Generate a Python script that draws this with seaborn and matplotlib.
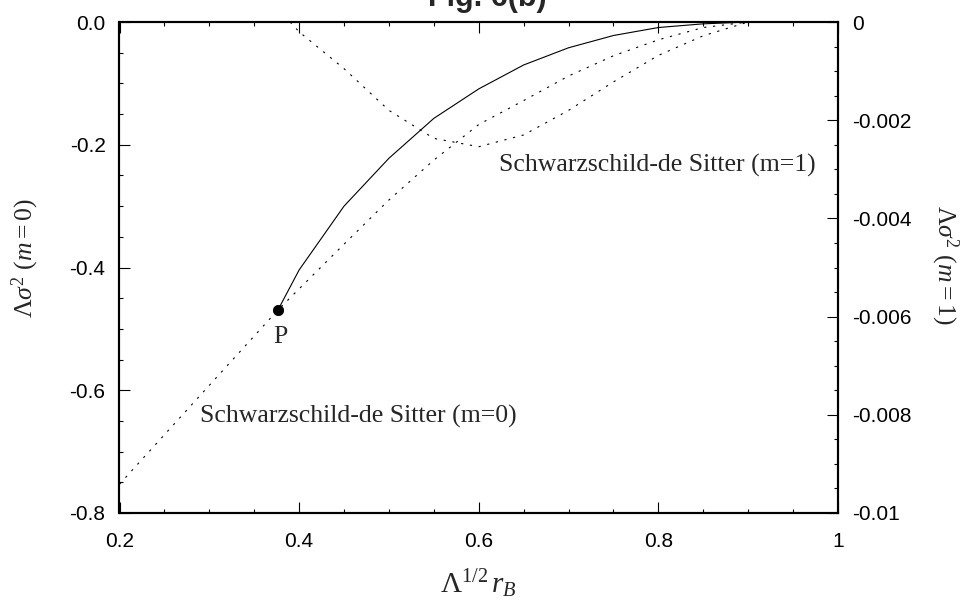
import numpy as np
import pandas as pd
import matplotlib
matplotlib.use("Agg")
import matplotlib.pyplot as plt
import seaborn as sns
from matplotlib.ticker import MultipleLocator, FuncFormatter

# ---- data ----
solid_x = [0.3765, 0.40, 0.45, 0.50, 0.55, 0.60, 0.65, 0.70, 0.75, 0.80, 0.85, 0.90]
solid_y = [-0.469, -0.404, -0.300, -0.222, -0.157, -0.109, -0.070, -0.042, -0.022, -0.009, -0.003, 0.0]

sds0_x = [0.20, 0.30, 0.3765, 0.45, 0.50, 0.55, 0.60, 0.65, 0.70, 0.75, 0.80, 0.85, 0.90]
sds0_y = [-0.753, -0.592, -0.469, -0.362, -0.290, -0.225, -0.167, -0.128, -0.088, -0.055, -0.029, -0.009, 0.0]

sds1_x = [0.39, 0.40, 0.45, 0.50, 0.55, 0.60, 0.65, 0.70, 0.75, 0.80, 0.85, 0.90]
sds1_y = [0.0, -0.0002, -0.00095, -0.0018, -0.00237, -0.00254, -0.0023, -0.0018, -0.00122, -0.00068, -0.00028, 0.0]

point_P = {"x": [0.3765], "y": [-0.469]}

xticks = [0.2, 0.4, 0.6, 0.8, 1.0]
yticks_left = [0.0, -0.2, -0.4, -0.6, -0.8]
yticks_right = [0.0, -0.002, -0.004, -0.006, -0.008, -0.01]

# ---- style ----
sns.set_style("ticks")
plt.rcParams["font.family"] = ["Liberation Sans", "DejaVu Sans"]
plt.rcParams["axes.unicode_minus"] = False
plt.rcParams["mathtext.fontset"] = "custom"
plt.rcParams["mathtext.rm"] = "Liberation Serif"
plt.rcParams["mathtext.it"] = "Liberation Serif:italic"
plt.rcParams["mathtext.bf"] = "Liberation Serif:bold"
plt.rcParams["mathtext.fallback"] = "cm"

fig = plt.figure(figsize=(9.62, 6.08), dpi=100)
ax = fig.add_axes([119.5 / 962, 1 - 513 / 608, (838 - 119.5) / 962, (513 - 22) / 608])
ax2 = ax.twinx()

dotted = (0, (2, 6))
df_solid = pd.DataFrame({"x": solid_x, "y": solid_y})
df0 = pd.DataFrame({"x": sds0_x, "y": sds0_y})
df1 = pd.DataFrame({"x": sds1_x, "y": sds1_y})

sns.lineplot(data=df_solid, x="x", y="y", ax=ax, color="black", lw=0.8, sort=False, estimator=None)
sns.lineplot(data=df0, x="x", y="y", ax=ax, color="black", lw=0.8, linestyle=dotted, sort=False, estimator=None)
sns.lineplot(data=df1, x="x", y="y", ax=ax2, color="black", lw=0.8, linestyle=dotted, sort=False, estimator=None)
sns.scatterplot(data=pd.DataFrame(point_P), x="x", y="y", ax=ax, color="black", s=55, edgecolor="black", zorder=5)

ax.set_xlim(0.2, 1.0)
ax.set_ylim(-0.8, 0.0)
ax2.set_ylim(-0.01, 0.0)

ax.set_xticks(xticks)
ax.set_yticks(yticks_left)
ax2.set_yticks(yticks_right)
ax.xaxis.set_minor_locator(MultipleLocator(0.05))
ax.yaxis.set_minor_locator(MultipleLocator(0.05))
ax2.yaxis.set_minor_locator(MultipleLocator(0.0005))
ax.xaxis.set_major_formatter(FuncFormatter(lambda v, p: "%g" % round(v, 6)))
ax.yaxis.set_major_formatter(FuncFormatter(lambda v, p: "%.1f" % (v if abs(v) > 1e-9 else 0.0)))
ax2.yaxis.set_major_formatter(FuncFormatter(lambda v, p: "%g" % round(v, 6) if abs(v) > 1e-12 else "0"))

for a in (ax, ax2):
    for s in a.spines.values():
        s.set_linewidth(1.5)
        s.set_color("black")
        s.set_visible(True)

ax.tick_params(axis="x", which="both", direction="in", top=True, bottom=True, labelsize=15, pad=14, colors="black")
ax.tick_params(axis="y", which="both", direction="in", left=True, right=False, labelsize=15, pad=10, colors="black")
ax.tick_params(which="major", length=8, width=0.8)
ax.tick_params(which="minor", length=3.2, width=0.8)
ax2.tick_params(axis="y", which="both", direction="in", right=True, left=False, labelsize=15, pad=10, colors="black")
ax2.tick_params(which="major", length=8, width=0.8)
ax2.tick_params(which="minor", length=3.2, width=0.8)

ax.set_xlabel(r"$\mathit{\Lambda}^{\mathit{1/2}}\,\mathit{r}_{\mathit{B}}$", fontsize=21)
ax.xaxis.label.set_va("baseline")
ax.xaxis.set_label_coords(0.5, (513 - 593) / 491)

ax.set_ylabel(r"$\Lambda\sigma^2\ \mathit{(m=0)}$", fontsize=18.5)
ax.yaxis.set_label_coords((41 - 119.5) / 718.5, 0.5 + (267.5 - 258) / 491)

ax2.set_ylabel(r"$\Lambda\sigma^2\ \mathit{(m=1)}$", fontsize=18.5, rotation=270)
ax2.yaxis.label.set_va("bottom")
ax2.yaxis.set_label_coords((929 - 119.5) / 718.5, 0.5 + (267.5 - 265) / 491)

serif = ["Liberation Serif", "DejaVu Serif"]
ax.text(0.2 + (499 - 119.5) / 898, -(172 - 22) / 613.75, "Schwarzschild-de Sitter (m=1)",
        family=serif, fontsize=18.5, va="baseline", ha="left")
ax.text(0.2 + (200 - 119.5) / 898, -(423 - 22) / 613.75, "Schwarzschild-de Sitter (m=0)",
        family=serif, fontsize=18.5, va="baseline", ha="left")
ax.text(0.2 + (280.5 - 119.5) / 898, -(343 - 22) / 613.75, "P",
        family=serif, fontsize=18.5, va="baseline", ha="center")

fig.text(487 / 962, 1 - 6 / 608, "Fig. 6(b)", fontsize=22, fontweight="bold",
         ha="center", va="baseline", family=["Liberation Sans", "DejaVu Sans"])

fig.savefig("out.png", dpi=100)
